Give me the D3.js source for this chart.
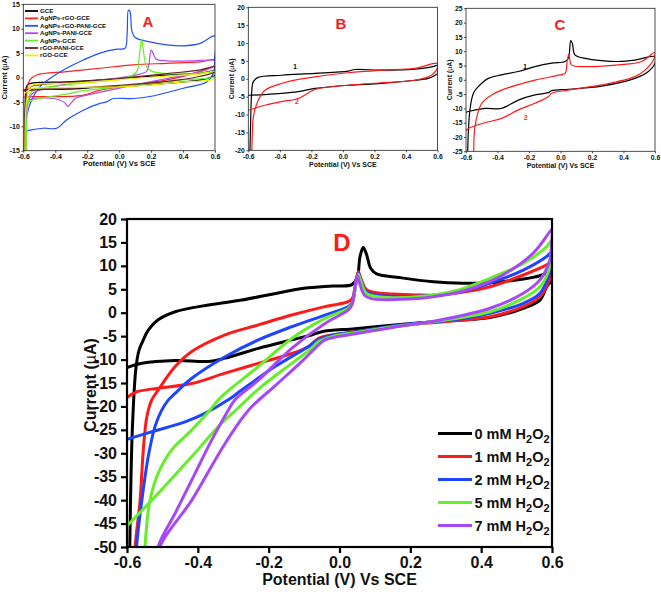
<!DOCTYPE html>
<html><head><meta charset="utf-8">
<script src="https://cdn.jsdelivr.net/npm/d3@7"></script>
<style>body{margin:0;background:#fff}svg{display:block;font-family:"Liberation Sans",Arial,sans-serif;font-weight:bold}</style>
</head><body>
<script>
// ---------- tick labels ----------
const xTickVals = [-0.6, -0.4, -0.2, 0.0, 0.2, 0.4, 0.6];
const yTicksA = [-15, -10, -5, 0, 5, 10, 15];
const yTicksB = [-20, -15, -10, -5, 0, 5, 10, 15, 20];
const yTicksC = [-25, -20, -15, -10, -5, 0, 5, 10, 15, 20, 25];
const yTicksD = [-50, -45, -40, -35, -30, -25, -20, -15, -10, -5, 0, 5, 10, 15, 20];

// ---------- panel A series: [potential V, current uA] ----------
const legendA = ["GCE", "AgNPs-rGO-GCE", "AgNPs-rGO-PANI-GCE", "AgNPs-PANI-GCE", "AgNPs-GCE", "rGO-PANI-GCE", "rGO-GCE"];
const colorsA = ["#000000", "#ff2020", "#2050ff", "#b048f0", "#66ee22", "#6b2424", "#f0f000"];
const aGCE = [[-0.595,-16],[-0.59,-8],[-0.585,-3],[-0.575,-1.5],[-0.537,-1.1],[-0.329,-0.9],[-0.12,-0.5],[0.089,0],[0.298,0.5],[0.507,0.85],[0.6,1.3],[0.6,0.5],[0.507,-0.5],[0.298,-1.2],[0.089,-1.7],[-0.12,-2],[-0.329,-2.4],[-0.537,-2.4],[-0.6,-2.6]];
const aAgRGO = [[-0.588,-16],[-0.583,-6],[-0.579,-2.6],[-0.558,-0.5],[-0.516,0.5],[-0.329,1.2],[-0.12,1.9],[0.089,2.6],[0.298,2.9],[0.507,3.2],[0.6,3.6],[0.598,2.4],[0.507,1.2],[0.298,-0.5],[0.089,-1.5],[-0.12,-2.6],[-0.224,-3.6],[-0.329,-3.9],[-0.537,-3.9],[-0.6,-4.0]];
const aAgRGOPANI = [[-0.585,-16],[-0.579,-8],[-0.548,-4.6],[-0.496,-1.9],[-0.433,-0.2],[-0.329,1.9],[-0.224,3.6],[-0.12,5],[-0.015,5.8],[0.037,6],[0.05,9],[0.058,13.8],[0.068,13.5],[0.08,9.5],[0.1,8.2],[0.193,7.3],[0.298,6.7],[0.402,6.5],[0.507,7],[0.6,8.5],[0.598,4],[0.59,0.8],[0.548,-0.9],[0.402,-2.2],[0.193,-3.9],[0.089,-4.3],[-0.036,-4.3],[-0.057,-4.6],[-0.078,-5],[-0.12,-5.3],[-0.224,-6.7],[-0.329,-8.7],[-0.391,-10.4],[-0.475,-10.4],[-0.558,-10.8],[-0.6,-11.2]];
const aAgPANI = [[-0.585,-16],[-0.575,-6],[-0.55,-3.5],[-0.5,-2.6],[-0.3,-1.2],[-0.1,-0.5],[0.1,0.5],[0.17,1.2],[0.185,2.5],[0.2,5.6],[0.212,5.0],[0.23,3.8],[0.3,3.4],[0.45,3.4],[0.6,3.4],[0.6,2.6],[0.5,1.2],[0.3,-0.2],[0.1,-1.5],[-0.1,-2.9],[-0.2,-3.6],[-0.27,-4.2],[-0.3,-5.2],[-0.32,-5.9],[-0.34,-5.2],[-0.38,-4.5],[-0.45,-4.2],[-0.55,-4.4],[-0.6,-5.5]];
const aAg = [[-0.582,-16],[-0.575,-7],[-0.56,-3.5],[-0.537,-2.6],[-0.329,-1.5],[-0.12,-0.8],[0.05,0],[0.11,1.2],[0.125,4],[0.141,7.9],[0.15,6],[0.172,2.2],[0.21,1.2],[0.4,0.7],[0.6,0.85],[0.6,0.2],[0.4,-0.5],[0.193,-1.2],[-0.015,-2],[-0.224,-2.7],[-0.329,-3.4],[-0.433,-3.9],[-0.537,-4.6],[-0.6,-5.5]];
const aRGOPANI = [[-0.59,-14],[-0.58,-4],[-0.56,-2],[-0.5,-1.5],[-0.3,-1.0],[0,-0.2],[0.3,0.8],[0.5,1.5],[0.6,2.2],[0.6,1.2],[0.5,0.2],[0.3,-0.8],[0,-1.6],[-0.3,-2.2],[-0.5,-2.5],[-0.6,-2.8]];
const aRGO = [[-0.59,-16],[-0.58,-5],[-0.56,-2],[-0.537,-1.5],[-0.329,-1.2],[-0.12,-0.8],[0.089,-0.2],[0.298,0.3],[0.507,0.7],[0.6,1.2],[0.6,-0.2],[0.4,-0.9],[0.2,-1.5],[0,-1.9],[-0.2,-2],[-0.4,-2.1],[-0.55,-2.3],[-0.6,-3.5]];

// ---------- panel B ----------
const b1 = [[-0.59,-21],[-0.585,-12],[-0.579,-4.1],[-0.568,-0.8],[-0.537,0.4],[-0.389,1.0],[-0.177,1.5],[0.034,2.15],[0.076,2.6],[0.245,2.4],[0.456,2.7],[0.583,3.55],[0.6,3.8],[0.6,1.5],[0.585,1.0],[0.541,0.1],[0.456,-0.4],[0.245,-1.3],[0.034,-1.8],[-0.177,-2.7],[-0.283,-3.6],[-0.389,-4.1],[-0.494,-4.4],[-0.6,-4.6]];
const b2 = [[-0.578,-21],[-0.574,-15],[-0.568,-10.7],[-0.537,-6.0],[-0.494,-3.2],[-0.389,-1.3],[-0.283,-0.2],[-0.177,0.55],[0.034,1.7],[0.245,2.4],[0.456,2.9],[0.6,4.3],[0.6,3.0],[0.562,1.0],[0.456,-0.4],[0.245,-1.1],[0.034,-1.8],[-0.177,-3.0],[-0.283,-5.5],[-0.389,-6.4],[-0.494,-7.4],[-0.6,-8.8]];

// ---------- panel C ----------
const c1 = [[-0.59,-27],[-0.585,-18],[-0.575,-10.5],[-0.553,-4.7],[-0.522,-2.4],[-0.458,0.5],[-0.374,1.7],[-0.268,2.9],[-0.162,4.6],[-0.056,5.8],[0.029,6.4],[0.05,7.5],[0.065,13.7],[0.075,12.8],[0.092,8.7],[0.156,7.5],[0.261,6.7],[0.367,6.4],[0.473,6.9],[0.6,8.1],[0.6,5.8],[0.558,2.9],[0.473,0.5],[0.261,-2.2],[0.05,-3.3],[-0.056,-3.8],[-0.077,-4.5],[-0.162,-5.3],[-0.268,-7.1],[-0.374,-10],[-0.479,-10],[-0.585,-11.1],[-0.6,-11.4]];
const c2 = [[-0.55,-27],[-0.543,-16.4],[-0.5,-8.2],[-0.437,-5.3],[-0.374,-3.6],[-0.162,-0.1],[-0.003,1.7],[0.03,2.3],[0.043,6.9],[0.054,9.0],[0.07,5.2],[0.156,4.6],[0.367,5.2],[0.515,6.4],[0.6,9.6],[0.59,6.9],[0.537,3.4],[0.473,1.1],[0.261,-1.8],[0.05,-3.6],[-0.056,-4.7],[-0.077,-5.9],[-0.162,-8.2],[-0.268,-10.5],[-0.374,-13.5],[-0.479,-15],[-0.585,-17],[-0.6,-17.8]];

// ---------- panel D ----------
const legendD = ["0", "1", "2", "5", "7"];
const colorsD = ["#000000", "#ff1a1a", "#1f44ff", "#66ee2a", "#a648f5"];
const d0mM = [[-0.593,-55],[-0.59,-40],[-0.585,-25],[-0.575,-12],[-0.566,-8],[-0.555,-6],[-0.54,-3.7],[-0.512,-1.5],[-0.464,0.2],[-0.37,1.65],[-0.276,2.7],[-0.18,4.1],[-0.1,5.2],[-0.02,5.7],[0.035,6.0],[0.05,7.5],[0.058,12],[0.067,13.9],[0.076,12.5],[0.088,9.5],[0.105,8.3],[0.17,7.5],[0.265,6.6],[0.35,6.3],[0.425,6.4],[0.5,7.0],[0.55,7.6],[0.585,8.4],[0.6,8.8],[0.598,7.0],[0.585,5.55],[0.566,2.7],[0.519,0.95],[0.425,-1.0],[0.284,-1.8],[0.171,-2.5],[0.044,-3.4],[-0.05,-4.05],[-0.079,-4.75],[-0.135,-5.8],[-0.229,-7.6],[-0.323,-9.7],[-0.37,-10.4],[-0.464,-10.2],[-0.558,-10.8],[-0.6,-11.7]];
const d1mM = [[-0.578,-55],[-0.577,-50],[-0.563,-40],[-0.554,-29.3],[-0.544,-22.2],[-0.53,-18.6],[-0.512,-16.5],[-0.464,-11.5],[-0.417,-8.3],[-0.323,-4.75],[-0.229,-2.6],[-0.135,-0.5],[-0.041,1.3],[0.025,2.35],[0.036,3],[0.045,6],[0.053,8.75],[0.062,7],[0.075,5],[0.1,4.3],[0.15,4.0],[0.218,3.8],[0.284,3.8],[0.35,4.4],[0.425,5.55],[0.519,8.05],[0.585,10.2],[0.6,11],[0.598,8],[0.589,6.3],[0.566,3.4],[0.519,1.3],[0.425,-0.85],[0.312,-1.8],[0.171,-2.7],[0.044,-4.05],[-0.022,-4.75],[-0.06,-5.5],[-0.088,-7.25],[-0.135,-8.7],[-0.229,-10.8],[-0.323,-12.9],[-0.417,-15.1],[-0.512,-16.1],[-0.573,-16.9],[-0.6,-18.1]];
const d2mM = [[-0.575,-55],[-0.573,-50],[-0.558,-40],[-0.54,-30.7],[-0.521,-24.3],[-0.502,-20.8],[-0.483,-18.6],[-0.464,-17.2],[-0.417,-14],[-0.323,-9.4],[-0.229,-5.8],[-0.135,-3.0],[-0.041,-0.5],[0.025,1.3],[0.036,2.2],[0.045,5.5],[0.053,8.4],[0.062,6.5],[0.075,4.5],[0.1,3.8],[0.15,3.5],[0.25,3.6],[0.35,4.6],[0.425,6.3],[0.519,9.1],[0.585,12],[0.6,13],[0.597,10],[0.59,7.7],[0.566,4.15],[0.519,2.0],[0.425,-0.1],[0.312,-1.6],[0.171,-2.6],[0.044,-4.1],[-0.022,-4.8],[-0.06,-5.8],[-0.088,-7.25],[-0.182,-11.5],[-0.276,-16.5],[-0.314,-18.6],[-0.38,-21.5],[-0.436,-23.3],[-0.53,-25.4],[-0.6,-27]];
const d5mM = [[-0.55,-55],[-0.549,-50],[-0.535,-40],[-0.512,-34.3],[-0.474,-29.3],[-0.417,-25],[-0.366,-20.8],[-0.342,-18.6],[-0.323,-17.2],[-0.229,-11.5],[-0.135,-5.5],[-0.041,-1.2],[0.025,0.95],[0.036,2],[0.045,5.5],[0.053,8.2],[0.062,6.3],[0.075,4.2],[0.1,3.5],[0.15,3.2],[0.25,3.6],[0.284,4.0],[0.35,5.2],[0.425,7.35],[0.519,10.5],[0.585,14.1],[0.6,15.5],[0.597,12],[0.594,9.8],[0.566,5.55],[0.519,3.1],[0.425,0.2],[0.284,-1.7],[0.171,-2.8],[0.044,-4.25],[-0.022,-5.1],[-0.06,-6.2],[-0.079,-7.6],[-0.135,-10.8],[-0.229,-16.3],[-0.29,-20.6],[-0.342,-24.3],[-0.417,-30.7],[-0.521,-39.3],[-0.6,-45.5]];
const d7mM = [[-0.514,-55],[-0.512,-50],[-0.464,-42.8],[-0.417,-35.7],[-0.361,-27.2],[-0.314,-20.8],[-0.295,-18.6],[-0.229,-14.4],[-0.135,-7.6],[-0.041,-2.3],[0.025,0.6],[0.036,1.8],[0.043,5],[0.05,8.0],[0.058,6],[0.07,3.8],[0.09,3.0],[0.171,2.85],[0.265,3.4],[0.359,4.85],[0.453,7.7],[0.547,12.7],[0.594,17.3],[0.6,17.8],[0.598,14],[0.594,11.25],[0.566,7],[0.519,4.15],[0.425,0.95],[0.284,-1.55],[0.171,-2.9],[0.044,-4.5],[-0.041,-5.8],[-0.069,-7.6],[-0.107,-10.45],[-0.182,-15.6],[-0.257,-20.8],[-0.323,-27.9],[-0.417,-40],[-0.507,-50],[-0.51,-55]];

const W = 661, H = 592;
const svg = d3.select("body").append("svg").attr("width", W).attr("height", H);

let clipN = 0;
function panel(o) {
  const x = d3.scaleLinear().domain([-0.6, 0.6]).range([o.left, o.right]);
  const y = d3.scaleLinear().domain(o.yDomain).range([o.bottom, o.top]);
  const g = svg.append("g");
  const id = "clip" + (clipN++);
  g.append("clipPath").attr("id", id).append("rect")
    .attr("x", o.left).attr("y", o.top).attr("width", o.right - o.left).attr("height", o.bottom - o.top);
  const line = d3.line().x(d => x(d[0])).y(d => y(d[1])).curve(d3.curveCatmullRom.alpha(0.5));
  const cg = g.append("g").attr("clip-path", `url(#${id})`);
  o.series.forEach(s => {
    cg.append("path").attr("d", line(s.data)).attr("fill", "none")
      .attr("stroke", s.color).attr("stroke-width", o.lw).attr("stroke-linejoin", "round").attr("stroke-linecap", "round");
  });
  g.append("rect").attr("x", o.left).attr("y", o.top).attr("width", o.right - o.left).attr("height", o.bottom - o.top)
    .attr("fill", "none").attr("stroke", o.frameColor).attr("stroke-width", o.frameW);
  const fmt = d => d.toFixed(1);
  const ax = g.append("g").attr("transform", `translate(0,${o.bottom})`)
    .call(d3.axisBottom(x).tickValues(xTickVals).tickFormat(fmt).tickSize(o.tick).tickPadding(o.pad));
  const ay = g.append("g").attr("transform", `translate(${o.left},0)`)
    .call(d3.axisLeft(y).tickValues(o.yTicks).tickFormat(d => String(d)).tickSize(o.tick).tickPadding(o.pad));
  [ax, ay].forEach(a => {
    a.select(".domain").remove();
    a.selectAll("line").attr("stroke", o.frameColor).attr("stroke-width", o.frameW);
    a.selectAll("text").attr("font-size", o.fs).attr("font-weight", "bold").attr("fill", "#111")
      .attr("font-family", '"Liberation Sans", Arial, sans-serif');
  });
  g.append("text").attr("x", (o.left + o.right) / 2).attr("y", o.xlabY).attr("text-anchor", "middle")
    .attr("font-size", o.lfs).attr("fill", "#111").text("Potential (V) Vs SCE");
  const yl = g.append("text").attr("transform", `translate(${o.ylabX},${(o.top + o.bottom) / 2 + o.ylabDy}) rotate(-90)`)
    .attr("text-anchor", "middle").attr("font-size", o.lfs).attr("fill", "#111");
  yl.append("tspan").text("Current (");
  yl.append("tspan").attr("font-weight", "normal").text("\u00b5");
  yl.append("tspan").text("A)");
  g.append("text").attr("x", o.letter[0]).attr("y", o.letter[1]).attr("text-anchor", "middle")
    .attr("font-size", o.letter[2]).attr("fill", "#ff1a1a").text(o.letter[3]);
  return {x, y, g};
}

// Panel A
const pa = panel({left: 23.3, right: 215, top: 4.3, bottom: 150.7, yDomain: [-15, 15], yTicks: yTicksA,
  lw: 1.2, frameW: 0.8, frameColor: "#222", tick: 2, pad: 1.5, fs: 7, lfs: 7.5, xlabY: 166, ylabX: 7, ylabDy: 0,
  letter: [148, 26.5, 15, "A"],
  series: [aGCE, aAgRGO, aAgRGOPANI, aAgPANI, aAg, aRGOPANI, aRGO].map((d, i) => ({data: d, color: colorsA[i]}))});
legendA.forEach((t, i) => {
  const yy = 11 + i * 7.4;
  pa.g.append("line").attr("x1", 25).attr("x2", 38).attr("y1", yy).attr("y2", yy).attr("stroke", colorsA[i]).attr("stroke-width", 1.8);
  pa.g.append("text").attr("x", 40).attr("y", yy + 2).attr("font-size", 6.2).attr("fill", "#111").text(t);
});

// Panel B
const pb = panel({left: 248.3, right: 437.5, top: 7.3, bottom: 150.3, yDomain: [-20, 20], yTicks: yTicksB,
  lw: 1.2, frameW: 0.8, frameColor: "#222", tick: 2, pad: 1.5, fs: 6.8, lfs: 7, xlabY: 167, ylabX: 234, ylabDy: 0,
  letter: [341, 28.5, 15, "B"],
  series: [{data: b1, color: "#000"}, {data: b2, color: "#ff1a1a"}]});
pb.g.append("text").attr("x", 295).attr("y", 69).attr("font-size", 6.5).attr("text-anchor", "middle").text("1");
pb.g.append("text").attr("x", 296.7).attr("y", 104).attr("font-size", 6.5).attr("text-anchor", "middle").attr("fill", "#ff1a1a").text("2");

// Panel C
const pc = panel({left: 466, right: 655, top: 8.3, bottom: 151.3, yDomain: [-25, 25], yTicks: yTicksC,
  lw: 1.2, frameW: 0.8, frameColor: "#222", tick: 2, pad: 1.5, fs: 6.8, lfs: 7, xlabY: 168, ylabX: 452, ylabDy: 0,
  letter: [560, 29.5, 15, "C"],
  series: [{data: c1, color: "#000"}, {data: c2, color: "#ff1a1a"}]});
pc.g.append("text").attr("x", 525).attr("y", 68.5).attr("font-size", 6.5).attr("text-anchor", "middle").text("1");
pc.g.append("text").attr("x", 525.7).attr("y", 120).attr("font-size", 6.5).attr("text-anchor", "middle").attr("fill", "#ff1a1a").text("2");

// Panel D
const pd = panel({left: 127, right: 552, top: 219, bottom: 547, yDomain: [-50, 20], yTicks: yTicksD,
  lw: 3, frameW: 2.2, frameColor: "#000", tick: 6, pad: 4, fs: 16, lfs: 16, xlabY: 585, ylabX: 96, ylabDy: 2,
  letter: [342, 250.5, 24, "D"],
  series: [d0mM, d1mM, d2mM, d5mM, d7mM].map((d, i) => ({data: d, color: colorsD[i]}))});
legendD.forEach((c, i) => {
  const yy = 433.5 + i * 23;
  pd.g.append("line").attr("x1", 438).attr("x2", 472).attr("y1", yy).attr("y2", yy).attr("stroke", colorsD[i]).attr("stroke-width", 3);
  const t = pd.g.append("text").attr("x", 474.5).attr("y", yy + 5).attr("font-size", 14.5).attr("fill", "#111");
  t.append("tspan").text(c + " mM H");
  t.append("tspan").attr("dy", 4).attr("font-size", 11).text("2");
  t.append("tspan").attr("dy", -4).text("O");
  t.append("tspan").attr("dy", 4).attr("font-size", 11).text("2");
});
</script>
</body></html>
